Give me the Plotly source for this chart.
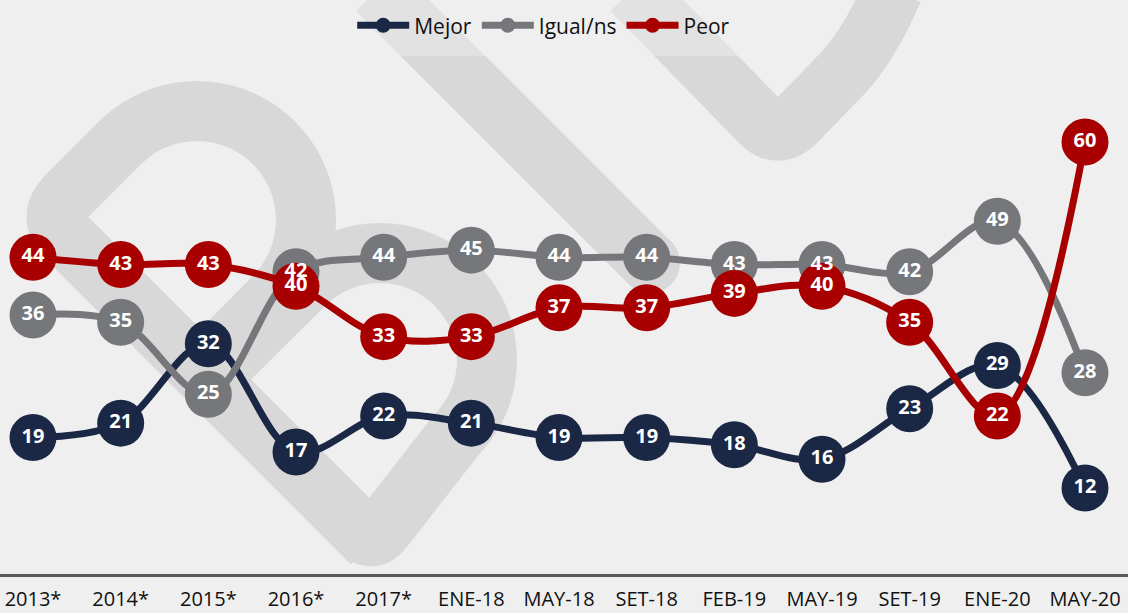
import math
import plotly.graph_objects as go

# ---------------- data ----------------
categories = ["2013*", "2014*", "2015*", "2016*", "2017*", "ENE-18", "MAY-18",
              "SET-18", "FEB-19", "MAY-19", "SET-19", "ENE-20", "MAY-20"]
mejor = [19, 21, 32, 17, 22, 21, 19, 19, 18, 16, 23, 29, 12]
igual = [36, 35, 25, 42, 44, 45, 44, 44, 43, 43, 42, 49, 28]
peor = [44, 43, 43, 40, 33, 33, 37, 37, 39, 40, 35, 22, 60]

series_names = ["Mejor", "Igual/ns", "Peor"]
series_values = [mejor, igual, peor]
series_colors = ["#1b2845", "#76777b", "#a80000"]

# ---------------- geometry ----------------
W, H = 1128, 613
MB = 39
PH = H - MB  # plot height in px

BG = "#efefef"
WM = "#d8d8d8"


def pp(x, y):
    return x / W, 1 - y / PH


def path_from(points):
    s = []
    for i, (x, y) in enumerate(points):
        a, b = pp(x, y)
        s.append(("M" if i == 0 else "L") + f"{a:.5f},{b:.5f}")
    return " ".join(s)


def arc(cx, cy, r, a0, a1, n=40):
    pts = []
    for i in range(n + 1):
        a = math.radians(a0 + (a1 - a0) * i / n)
        pts.append((cx + r * math.cos(a), cy + r * math.sin(a)))
    return pts


def qcurve(p0, c, p1, n=12):
    pts = []
    for i in range(n + 1):
        t = i / n
        x = (1 - t) ** 2 * p0[0] + 2 * (1 - t) * t * c[0] + t ** 2 * p1[0]
        y = (1 - t) ** 2 * p0[1] + 2 * (1 - t) * t * c[1] + t ** 2 * p1[1]
        pts.append((x, y))
    return pts


def toward(p, q, d):
    dx, dy = q[0] - p[0], q[1] - p[1]
    L = math.hypot(dx, dy)
    return (p[0] + dx / L * d, p[1] + dy / L * d)


shapes = []
bw = 60

# heart-like ribbon on the left: diagonal + first loop
bottom = (372, 543)
leftc = (46, 217)
c1 = (197, 220)
r1 = 109
p_start1 = (c1[0] - r1 / math.sqrt(2), c1[1] - r1 / math.sqrt(2))
pts = [bottom]
pts += qcurve(toward(leftc, bottom, 30), leftc, toward(leftc, p_start1, 30))
pts += arc(c1[0], c1[1], r1, 225, 405)
pts.append((200, 372))
shapes.append(dict(type="path", path=path_from(pts), xref="paper", yref="paper",
                   line=dict(color=WM, width=bw), layer="below"))

# second loop
c2 = (380, 360)
r2 = 107
pts2 = [(208, 380)]
pts2 += arc(c2[0], c2[1], r2, 225, 405)
p_end2 = pts2[-1]
pts2 += qcurve(toward(bottom, p_end2, 18), bottom, toward(bottom, leftc, 18))
shapes.append(dict(type="path", path=path_from(pts2), xref="paper", yref="paper",
                   line=dict(color=WM, width=bw), layer="below"))

# long diagonal band from the top
shapes.append(dict(type="path", path=path_from([(377, -10), (650, 263)]),
                   xref="paper", yref="paper", line=dict(color=WM, width=bw), layer="below"))
x0, y0 = pp(620, 233)
x1, y1 = pp(680, 293)
shapes.append(dict(type="circle", xref="paper", yref="paper", x0=x0, y0=y1, x1=x1, y1=y0,
                   fillcolor=WM, line=dict(width=0), layer="below"))

# V shape top right
vtx = (778, 140)
vpts = [(632, -10)]
vpts += qcurve(toward(vtx, (632, -10), 26), vtx, toward(vtx, (842, 74), 26))
vpts += qcurve((842, 74), (870, 44), (893, -10), n=10)
shapes.append(dict(type="path", path=path_from(vpts), xref="paper", yref="paper",
                   line=dict(color=WM, width=bw), layer="below"))

# lighter legend strip
lx0, ly0 = pp(337, 0)
lx1, ly1 = pp(743, 56)
shapes.append(dict(type="rect", xref="paper", yref="paper", x0=lx0, y0=ly1, x1=lx1, y1=ly0,
                   fillcolor="rgba(239,239,239,0.45)", line=dict(width=0), layer="below"))

fig = go.Figure()

# lines + markers
for name, vals, col in zip(series_names, series_values, series_colors):
    fig.add_trace(go.Scatter(
        x=categories, y=vals, mode="lines+markers", name=name, showlegend=False,
        line=dict(color=col, width=7, shape="spline", smoothing=1.0),
        marker=dict(color=col, size=47, line=dict(width=0)),
        hoverinfo="skip", cliponaxis=False,
    ))

# labels on top of everything
for name, vals, col in zip(series_names, series_values, series_colors):
    fig.add_trace(go.Scatter(
        x=categories, y=vals, mode="text", text=[str(v) for v in vals],
        textposition="middle center", showlegend=False,
        textfont=dict(family="Open Sans", size=20, color="white", weight="bold"),
        hoverinfo="skip", cliponaxis=False,
    ))

# legend entries
for name, col in zip(series_names, series_colors):
    fig.add_trace(go.Scatter(
        x=[None], y=[None], mode="lines+markers", name=name,
        line=dict(color=col, width=7), marker=dict(color=col, size=15),
    ))

k = (1085 - 33) / 12.0
xr = [-33 / k, 12 + (W - 1085) / k]
ky = (488 - 142) / 48.0
yr = [12 - (PH - 488) / ky, 12 + 488 / ky]

fig.update_layout(
    width=W, height=H,
    margin=dict(l=0, r=0, t=0, b=MB, autoexpand=False),
    paper_bgcolor=BG, plot_bgcolor=BG,
    shapes=shapes,
    font=dict(family="Open Sans", color="#111111"),
    legend=dict(orientation="h", x=0.482, xanchor="center", y=0.991, yanchor="top",
                font=dict(size=21, family="Open Sans", color="#111111"),
                bgcolor="rgba(0,0,0,0)", itemwidth=52, tracegroupgap=0),
    xaxis=dict(type="category", range=xr, showgrid=False, zeroline=False,
               showline=True, linecolor="#595959", linewidth=3, ticks="",
               ticklabelstandoff=5, automargin=False,
               tickfont=dict(size=20, family="Open Sans", color="#111111")),
    yaxis=dict(range=yr, showgrid=False, zeroline=False, showticklabels=False,
               showline=False, automargin=False),
)

fig.write_html("out.html", config={"displayModeBar": False},
               post_script="document.body.style.margin='0';document.body.style.padding='0';")
